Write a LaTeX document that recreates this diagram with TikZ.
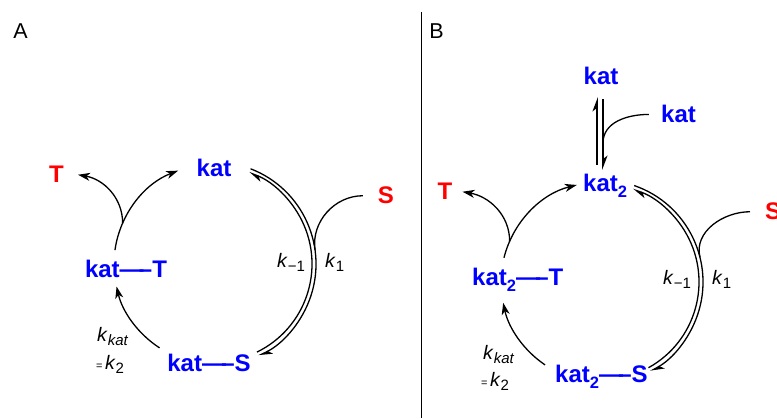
\documentclass[tikz,border=0pt]{standalone}
\usepackage{fontspec}
\setmainfont{Liberation Sans}
\usetikzlibrary{arrows.meta}
\definecolor{kblue}{RGB}{0,0,255}
\definecolor{kred}{RGB}{255,0,0}
\newcommand\kk[1]{\textit{k}\raisebox{-4pt}{\fontsize{15}{15}\selectfont #1}}
\newcommand\subtwo{\raisebox{-6pt}{\fontsize{16.5}{16.5}\selectfont 2}}
\newcommand\bnd{—\kern-0.2em–}
\begin{document}
\begin{tikzpicture}[x=1pt,y=1pt,
  sp/.style={font=\fontsize{24}{28}\selectfont\bfseries, text=kblue, inner sep=0pt},
  rd/.style={font=\fontsize{24}{28}\selectfont\bfseries, text=kred, inner sep=0pt},
  lbl/.style={font=\fontsize{19.5}{21}\selectfont, inner sep=0pt},
  panel/.style={font=\fontsize{21.5}{24}\selectfont, inner sep=0pt},
  ln/.style={line width=1.3pt},
  arr/.style={ln, -{Stealth[length=12pt,width=8pt,inset=3.5pt]}},
  harp/.style={ln, -{Stealth[harpoon,length=12pt,width=9pt,inset=3.5pt]}},
  harpv/.style={line width=1.8pt, -{Stealth[harpoon,length=12pt,width=9pt,inset=3.5pt]}},
]
\useasboundingbox (0,0) rectangle (777,418);
% panel letters and divider
\node[panel, anchor=base] (lA) at (20.5,379) {A};
\node[panel, anchor=base] (lB) at (436.5,379) {B};
\coordinate (d1) at (421.5,406);
\coordinate (d2) at (421.5,0);
\draw[line width=1.4pt] (d1) -- (d2);

% ---------- Panel A ----------
\coordinate (cA) at (214,154);
\node[sp, anchor=base] (katA) at (214,241) {kat};
\node[sp, anchor=base] (katTA) at (126,140) {kat\bnd T};
\node[sp, anchor=base] (katSA) at (209,46) {kat\bnd S};
\node[rd, anchor=base] (TA) at (56.5,235) {T};
\node[rd, anchor=base] (SA) at (386,214) {S};

\draw[arr] ([shift={(172:100)}]cA) arc[start angle=172,end angle=111,radius=100];
\draw[arr] ([shift={(237:100)}]cA) arc[start angle=237,end angle=193,radius=100];
\draw[harp] ([shift={(-64:98)}]cA) arc[start angle=-64,end angle=69,radius=98];
\draw[harp] ([shift={(69:102)}]cA) arc[start angle=69,end angle=-64,radius=102];
\coordinate (jA) at ([shift={(156:100)}]cA);
\draw[arr] (jA) to[out=90,in=-10] ([xshift=14pt]TA.east);
\draw[ln] ([xshift=-15pt]SA.west) to[out=180,in=98] ([shift={(8:102)}]cA);

\node[lbl, anchor=base west] (km1A) at (277,150) {\kk{−1}};
\node[lbl, anchor=base west] (k1A) at (325,150) {\kk{1}};
\node[lbl, anchor=base west] (kkatA) at (97,76) {\kk{\textit{kat}}};
\node[lbl, anchor=base west] (k2A) at (96,48) {{\fontsize{11}{11}\selectfont =}\kern2.5pt\kk{2}};

% ---------- Panel B ----------
\coordinate (cB) at (601,136);
\node[sp, anchor=base] (katTop) at (601,333) {kat};
\node[sp, anchor=base] (katR) at (678.5,295) {kat};
\node[sp, anchor=base west] (kat2) at (583,226) {kat\subtwo};
\node[sp, anchor=base west] (kat2T) at (472,132) {kat\subtwo\bnd T};
\node[sp, anchor=base west] (kat2S) at (555,35) {kat\subtwo\bnd S};
\node[rd, anchor=base] (TB) at (445,218) {T};
\node[rd, anchor=base west] (SB) at (765,198) {S};

\coordinate (vL1) at (597,253);
\coordinate (vL2) at (597,321);
\coordinate (vR1) at (603,319);
\coordinate (vR2) at (603,248);
\coordinate (vj) at (603,275);
\draw[harpv] (vL1) -- (vL2);
\draw[harpv] (vR1) -- (vR2);
\draw[ln] ([xshift=-12pt]katR.west) to[out=180,in=90] (vj);

\draw[arr] ([shift={(166:100)}]cB) arc[start angle=166,end angle=104,radius=100];
\draw[arr] ([shift={(236:100)}]cB) arc[start angle=236,end angle=192,radius=100];
\draw[harp] ([shift={(-61:98)}]cB) arc[start angle=-61,end angle=71,radius=98];
\draw[harp] ([shift={(71:102)}]cB) arc[start angle=71,end angle=-61,radius=102];
\coordinate (jB) at ([shift={(156:100)}]cB);
\draw[arr] (jB) to[out=90,in=-10] ([xshift=10pt]TB.east);
\draw[ln] ([xshift=-15pt]SB.west) to[out=180,in=104] ([shift={(14:102)}]cB);

\node[lbl, anchor=base west] (km1B) at (663,133) {\kk{−1}};
\node[lbl, anchor=base west] (k1B) at (712,133) {\kk{1}};
\node[lbl, anchor=base west] (kkatB) at (483,58) {\kk{\textit{kat}}};
\node[lbl, anchor=base west] (k2B) at (481,31) {{\fontsize{11}{11}\selectfont =}\kern2.5pt\kk{2}};
\end{tikzpicture}
\end{document}
